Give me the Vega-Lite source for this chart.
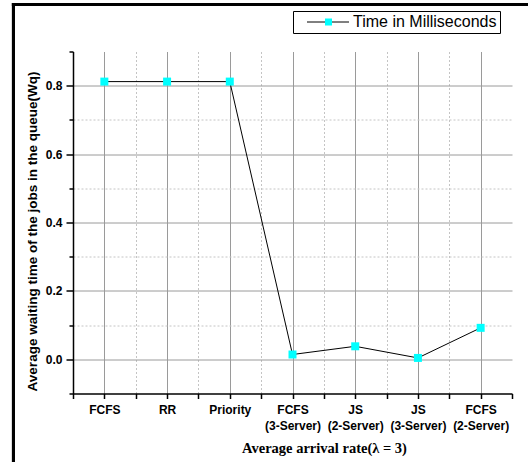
{
  "$schema": "https://vega.github.io/schema/vega-lite/v6.json",
  "width": 439,
  "height": 342,
  "autosize": {"type": "none"},
  "padding": {"left": 73, "top": 51.5, "right": 16, "bottom": 68.5},
  "background": "white",
  "config": {
    "view": {"stroke": null},
    "font": "Liberation Sans",
    "axis": {"labelOverlap": false, "labelFlush": false}
  },
  "data": {
    "values": [
      {"method": "FCFS", "idx": 1, "wq": 0.812},
      {"method": "RR", "idx": 2, "wq": 0.812},
      {"method": "Priority", "idx": 3, "wq": 0.812},
      {"method": "FCFS (3-Server)", "idx": 4, "wq": 0.014},
      {"method": "JS (2-Server)", "idx": 5, "wq": 0.038},
      {"method": "JS (3-Server)", "idx": 6, "wq": 0.004},
      {"method": "FCFS (2-Server)", "idx": 7, "wq": 0.092}
    ]
  },
  "layer": [
    {
      "mark": {"type": "rule", "stroke": "black", "strokeWidth": 3},
      "encoding": {
        "x": {"datum": -0.449, "type": "quantitative", "scale": {"domain": [0.5, 7.5], "nice": false, "zero": false}, "axis": null},
        "y": {"datum": 1.0418, "type": "quantitative", "scale": {"domain": [-0.1, 0.9], "nice": false, "zero": false}, "axis": null},
        "y2": {"datum": -0.3}
      }
    },
    {
      "mark": {"type": "rule", "stroke": "black", "strokeWidth": 3},
      "encoding": {
        "x": {"datum": -0.473, "type": "quantitative", "scale": {"domain": [0.5, 7.5], "nice": false, "zero": false}, "axis": null},
        "x2": {"datum": 7.8},
        "y": {"datum": 1.0374, "type": "quantitative", "scale": {"domain": [-0.1, 0.9], "nice": false, "zero": false}, "axis": null}
      }
    },
    {
      "mark": {"type": "line", "strokeWidth": 1},
      "encoding": {
        "x": {
          "field": "method",
          "type": "nominal",
          "sort": null,
          "axis": {
            "orient": "bottom",
            "title": "Average arrival rate(λ = 3)",
            "titleFont": "Liberation Serif",
            "titleFontSize": 14.5,
            "titleFontWeight": "bold",
            "titleColor": "black",
            "titleX": 251,
            "titleY": 59,
            "titleAlign": "center",
            "titleBaseline": "alphabetic",
            "labelExpr": "split(datum.label, ' ')",
            "labelFont": "Liberation Sans",
            "labelFontSize": 12,
            "labelFontWeight": "bold",
            "labelColor": "black",
            "labelAngle": 0,
            "labelPadding": 6,
            "labelLineHeight": 15.5,
            "domainColor": "black",
            "domainWidth": 1.5,
            "tickColor": "black",
            "tickSize": 5,
            "tickWidth": 1.5,
            "grid": true,
            "gridColor": "#9a9a9a",
            "gridWidth": 1
          }
        },
        "y": {
          "field": "wq",
          "type": "quantitative",
          "scale": {"domain": [-0.1, 0.9], "nice": false, "zero": false},
          "axis": {
            "orient": "left",
            "title": "Average waiting time of the jobs in the queue(Wq)",
            "titleFont": "Liberation Sans",
            "titleFontSize": 13.5,
            "titleFontWeight": "bold",
            "titleColor": "black",
            "titleX": -40.5,
            "titleY": 179.5,
            "titleAlign": "center",
            "titleBaseline": "middle",
            "values": [0, 0.2, 0.4, 0.6, 0.8],
            "format": ".1f",
            "labelFont": "Liberation Sans",
            "labelFontSize": 12,
            "labelFontWeight": "bold",
            "labelColor": "black",
            "labelPadding": 4,
            "domainColor": "black",
            "domainWidth": 1.5,
            "tickColor": "black",
            "tickWidth": 1.5,
            "tickSize": 7,
            "grid": true,
            "gridColor": "#9a9a9a",
            "gridWidth": 1
          }
        },
        "stroke": {
          "datum": "Time in Milliseconds",
          "scale": {"domain": ["Time in Milliseconds"], "range": ["black"]},
          "legend": {
            "orient": "none",
            "legendX": 220,
            "legendY": -40.5,
            "title": null,
            "symbolType": "M-5.25,0H5.25",
            "symbolSize": 64,
            "symbolStrokeWidth": 1,
            "labelFont": "Liberation Sans",
            "labelFontSize": 16,
            "labelColor": "black",
            "labelOffset": 17,
            "padding": 3,
            "symbolOffset": 24,
            "strokeColor": "black",
            "cornerRadius": 0
          }
        }
      }
    },
    {
      "mark": {"type": "square", "size": 64, "opacity": 1},
      "encoding": {
        "x": {
          "field": "idx",
          "type": "quantitative",
          "scale": {"domain": [0.5, 7.5], "nice": false, "zero": false},
          "axis": {
            "orient": "bottom",
            "title": null,
            "values": [0.5, 1.5, 2.5, 3.5, 4.5, 5.5, 6.5, 7.5],
            "labels": false,
            "domain": false,
            "tickColor": "black",
            "tickSize": 5,
            "tickWidth": 1.5,
            "grid": true,
            "gridColor": "#c4c4c4",
            "gridDash": [2, 2],
            "gridOpacity": {"condition": {"test": "datum.value < 1 || datum.value > 7", "value": 0}, "value": 1}
          }
        },
        "y": {
          "field": "wq",
          "type": "quantitative",
          "scale": {"domain": [-0.1, 0.9], "nice": false, "zero": false},
          "axis": {
            "orient": "left",
            "title": null,
            "values": [-0.1, 0.1, 0.3, 0.5, 0.7, 0.9],
            "labels": false,
            "domain": false,
            "tickColor": "black",
            "tickSize": 4,
            "tickWidth": 1.5,
            "grid": true,
            "gridColor": "#c4c4c4",
            "gridDash": [2, 2],
            "gridOpacity": {"condition": {"test": "datum.value < 0 || datum.value > 0.85", "value": 0}, "value": 1}
          }
        },
        "fill": {
          "datum": "marker",
          "scale": {"domain": ["marker"], "range": ["#00FFFF"]},
          "legend": {
            "orient": "none",
            "legendX": 244.5,
            "legendY": -40.5,
            "title": null,
            "symbolType": "square",
            "symbolSize": 49,
            "symbolStrokeWidth": 0,
            "labelExpr": "''",
            "labelFontSize": 16,
            "padding": 3,
            "zindex": 1
          }
        }
      }
    }
  ],
  "resolve": {
    "scale": {"x": "independent", "y": "independent"},
    "axis": {"x": "independent", "y": "independent"}
  }
}
